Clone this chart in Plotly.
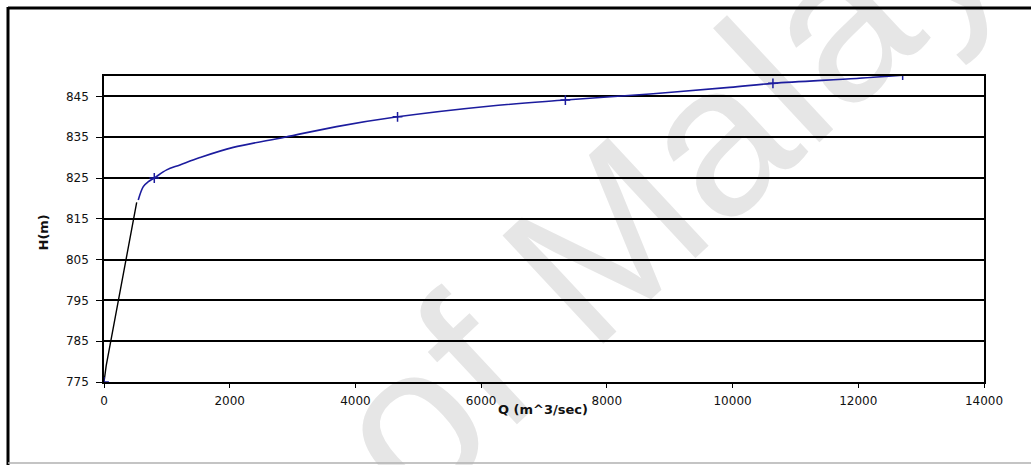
import math
import plotly.graph_objects as go

# Stage-discharge (rating) curve data
q_lower = [0, 35, 520]                 # m^3/sec, steep lower section
h_lower = [775, 779, 819]              # m

q_upper = [545, 625, 705, 800, 997, 1208, 1526, 2056, 2876, 3700, 4670,
           6117, 7340, 8687, 9952, 10642, 11971, 12706]
h_upper = [819.6, 822.9, 824.1, 825.0, 827.0, 828.2, 830.0, 832.5, 835.0,
           837.6, 840.0, 842.6, 844.1, 845.6, 847.2, 848.2, 849.4, 850.2]

q_marked = [0, 800, 4670, 7340, 10642, 12706]
h_marked = [775, 825.0, 840.0, 844.1, 848.2, 850.2]

x_ticks = [0, 2000, 4000, 6000, 8000, 10000, 12000, 14000]
x_labels = ["0", "2000", "4000", "6000", "8000", "10000", "12000", "14000"]
y_ticks = [775, 785, 795, 805, 815, 825, 835, 845]
y_labels = ["775", "785", "795", "805", "815", "825", "835", "845"]

W, H = 1031, 465
L, R, T, B = 104, 984, 76, 382   # plot area in pixels


def px(x):
    return (x - L) / (R - L)


def py(y):
    return (B - y) / (B - T)


fig = go.Figure()

fig.add_trace(go.Scatter(x=q_lower, y=h_lower, mode="lines",
                         line=dict(color="#000000", width=1.4),
                         hoverinfo="skip", showlegend=False))
fig.add_trace(go.Scatter(x=q_upper, y=h_upper, mode="lines",
                         line=dict(color="#1c1c9e", width=1.6, shape="spline"),
                         showlegend=False))
fig.add_trace(go.Scatter(x=q_marked, y=h_marked, mode="markers",
                         marker=dict(symbol="cross-thin", size=7,
                                     line=dict(color="#1c1c9e", width=1.5)),
                         showlegend=False))

tick_font = dict(family="DejaVu Sans", size=12, color="#111111")

fig.update_xaxes(range=[0, 14000], tickvals=x_ticks, ticktext=x_labels,
                 ticks="outside", ticklen=4, tickwidth=1.2, tickcolor="black",
                 showline=True, linecolor="black", linewidth=1.6, mirror=True,
                 showgrid=False, zeroline=False, tickfont=tick_font,
                 ticklabelstandoff=3)
fig.update_yaxes(range=[775, 850], tickvals=y_ticks, ticktext=y_labels,
                 ticks="outside", ticklen=6, tickwidth=1.2, tickcolor="black",
                 showline=True, linecolor="black", linewidth=1.6, mirror=True,
                 showgrid=True, gridcolor="black", gridwidth=1.6,
                 zeroline=False, tickfont=tick_font, ticklabelstandoff=5)

# Diagonal watermark text drawn beneath the grid
ang = math.radians(43)
wm_dir = (math.cos(ang), -math.sin(ang))
wm_c = (325, 474)
fig.add_shape(type="line", xref="paper", yref="paper", layer="below",
              x0=px(wm_c[0] - 100 * wm_dir[0]), y0=py(wm_c[1] - 100 * wm_dir[1]),
              x1=px(wm_c[0] + 100 * wm_dir[0]), y1=py(wm_c[1] + 100 * wm_dir[1]),
              line=dict(color="rgba(0,0,0,0)", width=0),
              label=dict(text="University of Malaya", textposition="middle",
                         yanchor="middle",
                         font=dict(family="Liberation Sans", size=215,
                                   color="#e6e6e6")))

# Chart-area frame
fig.add_shape(type="line", xref="paper", yref="paper",
              x0=px(8), y0=py(8), x1=px(1040), y1=py(8),
              line=dict(color="black", width=3))
fig.add_shape(type="line", xref="paper", yref="paper",
              x0=px(8), y0=py(7), x1=px(8), y1=py(470),
              line=dict(color="black", width=3))
fig.add_shape(type="line", xref="paper", yref="paper",
              x0=px(8), y0=py(463), x1=px(1040), y1=py(463),
              line=dict(color="#b0b0b0", width=1.5))

fig.add_annotation(text="Q (m^3/sec)", xref="paper", yref="paper",
                   x=px(543), y=py(419), showarrow=False,
                   font=dict(family="DejaVu Sans", size=13, color="#111111",
                             weight="bold"))
fig.add_annotation(text="H(m)", xref="paper", yref="paper",
                   x=px(33), y=py(233), showarrow=False, textangle=-90,
                   font=dict(family="DejaVu Sans", size=13, color="#111111",
                             weight="bold"))

fig.update_layout(width=W, height=H,
                  margin=dict(l=L, r=W - R, t=T, b=H - B, pad=0),
                  paper_bgcolor="white", plot_bgcolor="rgba(0,0,0,0)")

fig.write_html("out.html")
